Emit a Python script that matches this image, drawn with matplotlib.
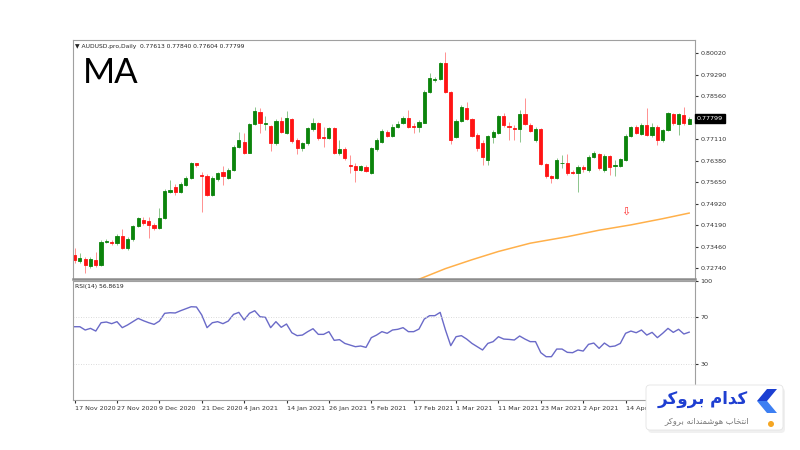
import matplotlib
matplotlib.use('Agg')
import matplotlib.pyplot as plt
from matplotlib.patches import FancyBboxPatch, Polygon, Circle

# AUDUSD daily candles (bar 0 = 17 Nov 2020)
opens = [0.7318, 0.7299, 0.7303, 0.7281, 0.7301, 0.7284, 0.7361, 0.7361, 0.7357, 0.7382,
         0.7341, 0.7371, 0.7416, 0.7436, 0.7433, 0.7420, 0.7408, 0.7442, 0.7532, 0.7549,
         0.7532, 0.7555, 0.7578, 0.7628, 0.7589, 0.7586, 0.7521, 0.7574, 0.7600, 0.7578,
         0.7606, 0.7685, 0.7702, 0.7665, 0.7761, 0.7803, 0.7761, 0.7755, 0.7696, 0.7773,
         0.7732, 0.7779, 0.7707, 0.7679, 0.7696, 0.7744, 0.7764, 0.7716, 0.7713, 0.7747,
         0.7662, 0.7676, 0.7623, 0.7619, 0.7606, 0.7617, 0.7595, 0.7676, 0.7702, 0.7736,
         0.7721, 0.7753, 0.7764, 0.7781, 0.7755, 0.7753, 0.7766, 0.7871, 0.7911, 0.7913,
         0.7969, 0.7871, 0.7716, 0.7773, 0.7817, 0.7777, 0.7724, 0.7696, 0.7640, 0.7716,
         0.7732, 0.7789, 0.7755, 0.7747, 0.7744, 0.7795, 0.7758, 0.7707, 0.7745, 0.7626,
         0.7584, 0.7578, 0.7628, 0.7631, 0.7600, 0.7595, 0.7617, 0.7606, 0.7651, 0.7660,
         0.7606, 0.7653, 0.7619, 0.7619, 0.7640, 0.7721, 0.7750, 0.7728, 0.7758, 0.7724,
         0.7753, 0.7707, 0.7741, 0.7795, 0.7762, 0.7792, 0.77613]
highs = [0.7341, 0.7324, 0.7312, 0.7312, 0.7329, 0.7369, 0.7371, 0.7369, 0.7389, 0.7405,
         0.7380, 0.7420, 0.7448, 0.7446, 0.7448, 0.7425, 0.7476, 0.7540, 0.7572, 0.7558,
         0.7566, 0.7584, 0.7634, 0.7631, 0.7600, 0.7592, 0.7584, 0.7600, 0.7619, 0.7611,
         0.7690, 0.7736, 0.7730, 0.7766, 0.7820, 0.7815, 0.7787, 0.7758, 0.7777, 0.7784,
         0.7807, 0.7782, 0.7713, 0.7702, 0.7753, 0.7781, 0.7770, 0.7753, 0.7753, 0.7750,
         0.7707, 0.7683, 0.7657, 0.7628, 0.7624, 0.7623, 0.7685, 0.7713, 0.7744, 0.7741,
         0.7762, 0.7773, 0.7789, 0.7809, 0.7764, 0.7775, 0.7877, 0.7933, 0.7922, 0.7973,
         0.8007, 0.7874, 0.7777, 0.7826, 0.7837, 0.7781, 0.7730, 0.7707, 0.7724, 0.7741,
         0.7792, 0.7798, 0.7770, 0.7758, 0.7809, 0.7849, 0.7764, 0.7750, 0.7747, 0.7631,
         0.7589, 0.7645, 0.7657, 0.7660, 0.7606, 0.7623, 0.7623, 0.7657, 0.7671, 0.7665,
         0.7660, 0.7657, 0.7640, 0.7645, 0.7728, 0.7755, 0.7758, 0.7764, 0.7815, 0.7764,
         0.7757, 0.7746, 0.7803, 0.7800, 0.7800, 0.7818, 0.77840]
lows = [0.7290, 0.7290, 0.7256, 0.7273, 0.7276, 0.7281, 0.7357, 0.7352, 0.7352, 0.7337,
        0.7335, 0.7366, 0.7412, 0.7420, 0.7374, 0.7403, 0.7405, 0.7439, 0.7527, 0.7521,
        0.7527, 0.7552, 0.7574, 0.7617, 0.7465, 0.7518, 0.7518, 0.7570, 0.7555, 0.7574,
        0.7604, 0.7679, 0.7660, 0.7662, 0.7758, 0.7730, 0.7741, 0.7671, 0.7690, 0.7730,
        0.7728, 0.7698, 0.7660, 0.7671, 0.7690, 0.7739, 0.7707, 0.7685, 0.7710, 0.7660,
        0.7657, 0.7640, 0.7595, 0.7566, 0.7604, 0.7600, 0.7592, 0.7671, 0.7698, 0.7716,
        0.7716, 0.7747, 0.7761, 0.7747, 0.7730, 0.7736, 0.7764, 0.7868, 0.7905, 0.7911,
        0.7865, 0.7694, 0.7713, 0.7770, 0.7775, 0.7716, 0.7671, 0.7623, 0.7623, 0.7696,
        0.7728, 0.7753, 0.7707, 0.7707, 0.7702, 0.7758, 0.7734, 0.7702, 0.7623, 0.7578,
        0.7563, 0.7574, 0.7611, 0.7589, 0.7592, 0.7532, 0.7600, 0.7600, 0.7645, 0.7606,
        0.7600, 0.7589, 0.7586, 0.7615, 0.7637, 0.7716, 0.7728, 0.7724, 0.7721, 0.7719,
        0.7690, 0.7702, 0.7737, 0.7759, 0.7724, 0.7758, 0.77604]
closes = [0.7301, 0.7307, 0.7284, 0.7303, 0.7284, 0.7363, 0.7365, 0.7357, 0.7382, 0.7341,
          0.7372, 0.7416, 0.7442, 0.7425, 0.7420, 0.7408, 0.7442, 0.7536, 0.7538, 0.7532,
          0.7558, 0.7578, 0.7628, 0.7623, 0.7586, 0.7521, 0.7578, 0.7595, 0.7584, 0.7606,
          0.7685, 0.7707, 0.7665, 0.7762, 0.7807, 0.7766, 0.7764, 0.7696, 0.7773, 0.7736,
          0.7781, 0.7704, 0.7679, 0.7696, 0.7747, 0.7764, 0.7713, 0.7713, 0.7747, 0.7662,
          0.7676, 0.7645, 0.7619, 0.7606, 0.7619, 0.7604, 0.7679, 0.7707, 0.7739, 0.7721,
          0.7753, 0.7762, 0.7781, 0.7753, 0.7751, 0.7770, 0.7871, 0.7916, 0.7914, 0.7969,
          0.7871, 0.7707, 0.7773, 0.7820, 0.7777, 0.7721, 0.7679, 0.7649, 0.7721, 0.7736,
          0.7789, 0.7758, 0.7750, 0.7744, 0.7795, 0.7762, 0.7739, 0.7745, 0.7626, 0.7584,
          0.7578, 0.7640, 0.7631, 0.7597, 0.7597, 0.7617, 0.7608, 0.7651, 0.7665, 0.7611,
          0.7653, 0.7617, 0.7623, 0.7642, 0.7721, 0.7750, 0.7732, 0.7758, 0.7724, 0.7753,
          0.7707, 0.7741, 0.7798, 0.7764, 0.7795, 0.7764, 0.77799]

# RSI(14)
rsi = [61.5, 61.5, 58.7, 60.1, 57.8, 64.9, 65.5, 64.1, 65.8, 60.7,
       63.0, 65.8, 68.6, 66.6, 64.9, 63.5, 66.3, 72.9, 73.4, 73.2,
       75.1, 76.8, 78.5, 78.3, 71.5, 60.7, 64.9, 65.8, 64.1, 66.3,
       72.0, 73.7, 67.2, 72.9, 75.1, 70.0, 69.5, 60.7, 65.8, 61.0,
       63.8, 56.4, 53.9, 54.4, 57.3, 59.8, 55.0, 55.0, 57.3, 49.9,
       50.5, 47.3, 45.9, 44.5, 45.1, 43.9, 52.2, 54.4, 57.3, 55.9,
       58.7, 59.3, 60.7, 57.3, 57.3, 59.5, 68.0, 70.9, 70.9, 73.7,
       58.7, 45.4, 53.0, 53.9, 51.0, 47.3, 44.5, 41.7, 47.3, 48.8,
       53.0, 51.0, 50.7, 50.2, 53.6, 51.0, 48.8, 48.8, 39.4, 36.0,
       36.0, 42.5, 42.5, 39.7, 39.4, 41.7, 40.8, 46.5, 47.6, 43.1,
       47.6, 44.5, 45.1, 47.3, 55.9, 57.8, 56.4, 58.7, 54.4, 56.7,
       52.2, 55.9, 60.1, 56.7, 59.3, 55.3, 56.86]

# long moving average (only the visible part)
ma_bars = [65, 70, 75, 80, 86, 93, 99, 105, 111, 116]
ma_vals = [0.7236, 0.7272, 0.7302, 0.7330, 0.7358, 0.7380, 0.7402, 0.7420, 0.7441, 0.7460]

price_ticks = [0.80020, 0.79290, 0.78560, 0.77110, 0.76380, 0.75650, 0.74920, 0.74190, 0.73460, 0.72740]
date_labels = ['17 Nov 2020', '27 Nov 2020', '9 Dec 2020', '21 Dec 2020', '4 Jan 2021',
               '14 Jan 2021', '26 Jan 2021', '5 Feb 2021', '17 Feb 2021', '1 Mar 2021',
               '11 Mar 2021', '23 Mar 2021', '2 Apr 2021', '14 Apr 2021']
date_bars = [0, 8, 16, 24, 32, 40, 48, 56, 64, 72, 80, 88, 96, 104]

logo_title = 'کدام بروکر'
logo_sub = 'انتخاب هوشمندانه بروکر'

# presentation forms: isolated, final, initial, medial
AR = {'ا': ('\ufe8d', '\ufe8e', None, None), 'د': ('\ufea9', '\ufeaa', None, None),
      'ر': ('\ufead', '\ufeae', None, None), 'و': ('\ufeed', '\ufeee', None, None),
      'ب': ('\ufe8f', '\ufe90', '\ufe91', '\ufe92'), 'ت': ('\ufe95', '\ufe96', '\ufe97', '\ufe98'),
      'خ': ('\ufea5', '\ufea6', '\ufea7', '\ufea8'), 'ش': ('\ufeb5', '\ufeb6', '\ufeb7', '\ufeb8'),
      'م': ('\ufee1', '\ufee2', '\ufee3', '\ufee4'), 'ن': ('\ufee5', '\ufee6', '\ufee7', '\ufee8'),
      'ه': ('\ufee9', '\ufeea', '\ufeeb', '\ufeec'), 'ک': ('\ufb8e', '\ufb8f', '\ufb90', '\ufb91')}


def shape_fa(s):
    # join letters and put them in visual order, matplotlib does not do it
    out = []
    for i, ch in enumerate(s):
        f = AR.get(ch)
        if f is None:
            out.append(ch)
            continue
        prev = s[i - 1] if i > 0 else ''
        nxt = s[i + 1] if i + 1 < len(s) else ''
        jp = prev in AR and AR[prev][2] is not None
        jn = f[2] is not None and nxt in AR
        if jp and jn:
            out.append(f[3])
        elif jn:
            out.append(f[2])
        elif jp:
            out.append(f[1])
        else:
            out.append(f[0])
    return ''.join(reversed(out))


fig = plt.figure(figsize=(8, 4.5), dpi=100)
fig.patch.set_facecolor('white')
ax = fig.add_axes([73 / 800, 1 - 279 / 450, 622 / 800, 239 / 450])
ax2 = fig.add_axes([73 / 800, 1 - 400 / 450, 622 / 800, 119 / 450], sharex=ax)

green = '#0b840b'
red = '#ff1414'
x = list(range(len(opens)))
cols = [green if c >= o else red for o, c in zip(opens, closes)]
ax.vlines(x, lows, highs, colors=cols, linewidth=0.6, alpha=0.55)
bottoms = [min(o, c) for o, c in zip(opens, closes)]
heights = [abs(c - o) for o, c in zip(opens, closes)]
ax.bar(x, heights, bottom=bottoms, width=0.6, color=cols, edgecolor=cols, linewidth=0.6)

ax.plot(ma_bars, ma_vals, color='#ffb04a', linewidth=1.1)
ax.text(104, 0.7465, '⇩', color='#ff3030', fontsize=8, ha='center', va='center')

ax.set_xlim(-0.3, 117.1)
ax.set_ylim(0.72368, 0.80460)
ax.yaxis.tick_right()
ax.set_yticks(price_ticks)
ax.set_yticklabels(['%.5f' % v for v in price_ticks])
ax.tick_params(axis='y', labelsize=4.6, length=2, pad=2, colors='#333333')
ax.tick_params(axis='x', bottom=False, labelbottom=False)
for s in ax.spines.values():
    s.set_color('#a0a0a0')
    s.set_linewidth(0.8)
ax.spines['bottom'].set_color('#8c8c8c')
ax.spines['bottom'].set_linewidth(1.8)

ax.text(1.003, closes[-1], '%.5f' % closes[-1], transform=ax.get_yaxis_transform(),
        fontsize=4.6, color='white', va='center', ha='left',
        bbox=dict(boxstyle='square,pad=0.25', fc='black', ec='black'))
ax.text(0.004, 0.985, '▼ AUDUSD.pro,Daily  0.77613 0.77840 0.77604 0.77799',
        transform=ax.transAxes, fontsize=4.3, va='top', ha='left', color='#222222')
ax.text(0.016, 0.86, 'MA', transform=ax.transAxes, fontsize=25, family='Lato',
        va='center', ha='left', color='black')

ax2.plot(x, rsi, color='#6a6ac8', linewidth=1.0)
for lvl in (70, 30):
    ax2.axhline(lvl, color='#cfcfcf', linewidth=0.6, linestyle=(0, (1, 2)))
ax2.set_ylim(-0.85, 100.4)
ax2.yaxis.tick_right()
ax2.set_yticks([100, 70, 30])
ax2.tick_params(axis='y', labelsize=4.6, length=2, pad=2, colors='#333333')
ax2.set_xticks(date_bars)
ax2.set_xticklabels(date_labels)
ax2.tick_params(axis='x', labelsize=4.6, length=2, pad=2, colors='#333333')
for lab in ax2.get_xticklabels():
    lab.set_ha('left')
for s in ax2.spines.values():
    s.set_color('#a0a0a0')
    s.set_linewidth(0.8)
ax2.text(0.004, 0.975, 'RSI(14) 56.8619', transform=ax2.transAxes, fontsize=4.3,
         va='top', ha='left', color='#222222')

# logo overlay
ov = fig.add_axes([0, 0, 1, 1], zorder=10)
ov.set_xlim(0, 800)
ov.set_ylim(450, 0)
ov.axis('off')
ov.patch.set_alpha(0)
ov.add_patch(FancyBboxPatch((648, 388), 137, 45, boxstyle='round,pad=0,rounding_size=4',
                            fc='#000000', ec='none', alpha=0.06))
ov.add_patch(FancyBboxPatch((646, 385), 137, 45, boxstyle='round,pad=0,rounding_size=4',
                            fc='white', ec='#e4e4e4', lw=0.6))
ov.add_patch(Polygon([(767, 389), (777, 389), (767, 401), (757, 401)], closed=True, fc='#1c3fd2', ec='none'))
ov.add_patch(Polygon([(757, 401), (767, 401), (777, 413), (767, 413)], closed=True, fc='#3d7ff2', ec='none'))
ov.add_patch(Circle((771, 424), 3, fc='#f5a623', ec='none'))
ov.text(748, 399, shape_fa(logo_title), fontsize=12, fontweight='bold', color='#1f3fd1',
        ha='right', va='center', family='DejaVu Sans')
ov.text(749, 421, shape_fa(logo_sub), fontsize=6, color='#777777',
        ha='right', va='center', family='DejaVu Sans')

fig.savefig('out.png', dpi=100)
